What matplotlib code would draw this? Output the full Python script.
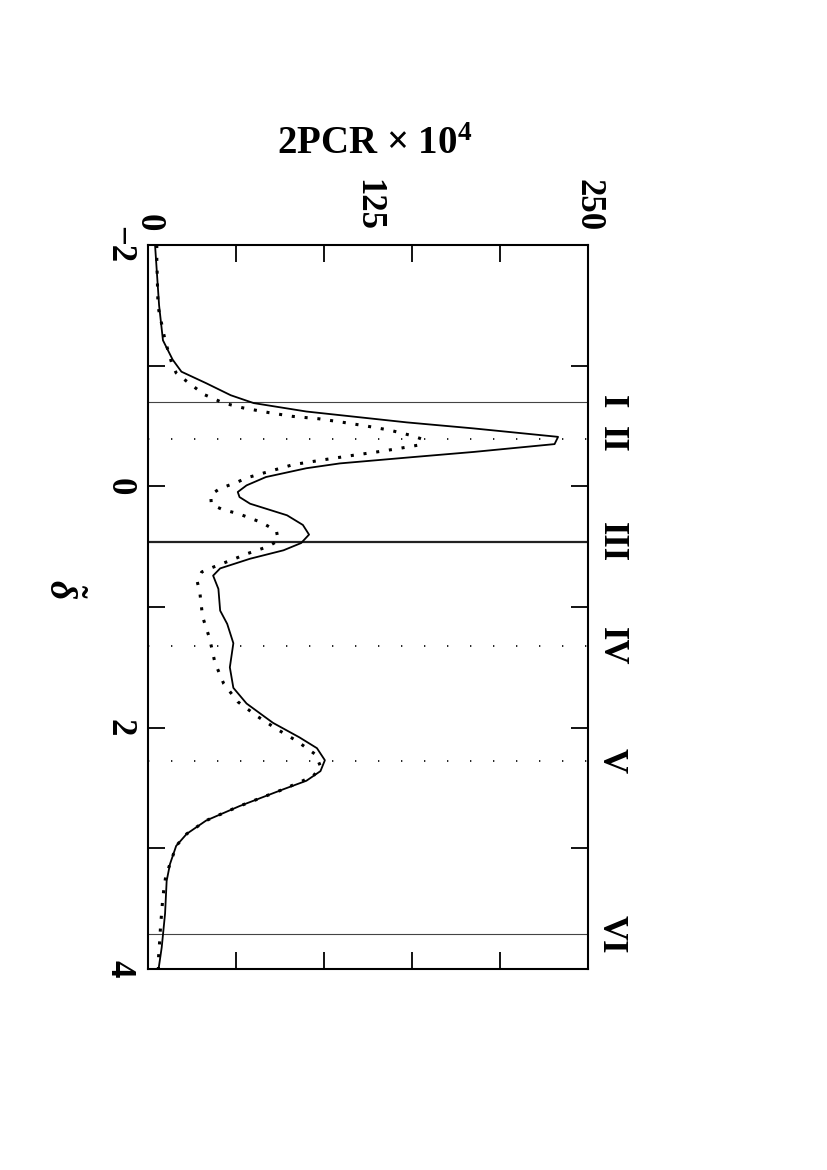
import matplotlib
matplotlib.use("Agg")
import matplotlib.pyplot as plt
import matplotlib.transforms as mtransforms

plt.rcParams['font.family'] = ['Liberation Serif', 'DejaVu Serif']
plt.rcParams['font.weight'] = 'bold'
plt.rcParams['mathtext.fontset'] = 'custom'
plt.rcParams['mathtext.rm'] = 'Liberation Serif:bold'
plt.rcParams['mathtext.bf'] = 'Liberation Serif:bold'
plt.rcParams['mathtext.it'] = 'Liberation Serif:italic:bold'

# solid curve (delta, 2PCR x 10^4)
solid_d = [-2.0, -1.5, -1.21, -1.05, -0.95, -0.855, -0.755, -0.69, -0.62, -0.53,
           -0.48, -0.41, -0.35, -0.285, -0.243, -0.19, -0.15, -0.077, -0.008, 0.047,
           0.089, 0.144, 0.24, 0.32, 0.40, 0.47, 0.53, 0.60, 0.68, 0.74,
           0.85, 1.03, 1.14, 1.30, 1.50, 1.67, 1.80, 1.96, 2.08, 2.17,
           2.27, 2.36, 2.44, 2.51, 2.65, 2.77, 2.88, 2.98, 3.13, 3.27,
           3.54, 3.82, 4.0]
solid_v = [4, 6.3, 8.5, 14, 19, 33, 47, 60, 90, 147,
           185, 233, 231, 185, 151, 109, 90, 67, 56, 51,
           52, 58, 79, 88, 91.5, 87, 77, 58, 41, 37,
           40, 41, 45, 48.5, 46.5, 48.5, 56, 71, 86, 96,
           100.5, 98, 90, 77, 52, 33, 22, 16, 12.5, 10.6,
           9.7, 7.8, 6]

# dotted curve
dot_d = [-2.0, -1.88, -1.49, -1.21, -1.02, -0.94, -0.87, -0.76, -0.69, -0.65,
         -0.61, -0.58, -0.56, -0.53, -0.50, -0.465, -0.42, -0.39, -0.34, -0.31,
         -0.285, -0.257, -0.224, -0.18, -0.12, -0.07, -0.03, 0.017, 0.07, 0.15,
         0.19, 0.23, 0.30, 0.37, 0.45, 0.50, 0.56, 0.59, 0.67, 0.71,
         0.79, 0.885, 1.08, 1.26, 1.46, 1.635, 1.785, 1.905, 2.01, 2.11,
         2.22, 2.32, 2.40, 2.44, 2.51, 2.65, 2.77, 2.88, 2.98, 3.05,
         3.15, 3.24, 3.34, 3.43, 3.53, 3.63, 3.73, 3.82, 3.92, 4.0]
dot_v = [5, 5, 5.7, 9.7, 13.5, 16, 22, 32, 43, 54,
         69, 82, 97, 111, 124, 137.5, 150, 156, 153, 141,
         130, 116.5, 101.5, 82.5, 68, 56, 50, 41, 35.6, 36,
         42, 52, 64.6, 73, 74, 68, 56, 51, 37, 30.5,
         28, 29.5, 31, 35, 38, 43, 51, 62, 73, 84.5,
         95, 98, 94, 88, 77, 52, 33, 22, 16, 14.4,
         12, 10, 9, 8.3, 7.8, 7.2, 6.8, 6.4, 5.9, 5.9]

# marked positions
mark_names = ['I', 'II', 'III', 'IV', 'V', 'VI']
mark_pos = [-0.70, -0.39, 0.462, 1.322, 2.274, 3.712]
mark_style = ['thin', 'dot', 'thick', 'dot', 'dot', 'thin']

x_minor = [0, 50, 100, 150, 200, 250]
x_major = [0, 125, 250]
x_labels = ['0', '125', '250']
y_minor = [-1, 1, 3]
y_major = [-2, 0, 2, 4]
y_labels = ['\u22122', '0', '2', '4']

fig = plt.figure(figsize=(8.28, 11.7), dpi=100)
ax = fig.add_axes([148/828, 1 - 969/1170, 440/828, 724/1170])

for d, s in zip(mark_pos, mark_style):
    if s == 'thin':
        ax.axhline(d, color='#444444', lw=0.8, zorder=1)
    elif s == 'thick':
        ax.axhline(d, color='#222222', lw=1.6, zorder=1)
    else:
        ax.axhline(d, color='black', lw=1.2, ls=(0, (0.8, 13)), zorder=1)

ax.plot(solid_v, solid_d, color='black', lw=1.3, zorder=3)
ax.plot(dot_v, dot_d, color='black', lw=2.2, ls=(0, (1, 3.2)),
        dash_capstyle='butt', zorder=2)

ax.set_xlim(0, 250)
ax.set_ylim(4, -2)

ax.set_xticks(x_major)
ax.set_xticklabels(x_labels)
ax.set_xticks(x_minor, minor=True)
ax.set_yticks(y_major)
ax.set_yticklabels(y_labels)
ax.set_yticks(y_minor, minor=True)

ax.xaxis.set_ticks_position('both')
ax.tick_params(axis='x', which='major', length=0)
ax.tick_params(axis='x', which='minor', direction='in', length=12, width=1.3)
ax.tick_params(axis='x', which='major', labeltop=True, labelbottom=False,
               pad=10, labelsize=25, labelrotation=-90)
ax.yaxis.set_ticks_position('both')
ax.tick_params(axis='y', which='both', direction='in', length=12, width=1.3)
ax.tick_params(axis='y', which='major', labelleft=True, labelright=False,
               pad=9, labelsize=25, labelrotation=-90)
for lab in ax.get_xticklabels():
    lab.set_verticalalignment('bottom')
    lab.set_horizontalalignment('center')
for lab in ax.get_yticklabels():
    lab.set_verticalalignment('center')
    lab.set_horizontalalignment('right')

for sp in ax.spines.values():
    sp.set_linewidth(1.5)

trans = mtransforms.blended_transform_factory(ax.transAxes, ax.transData)
for name, d in zip(mark_names, mark_pos):
    ax.text(1.052, d, name, transform=trans, rotation=-90,
            ha='center', va='center', fontsize=25, fontweight='bold')

fig.text(375/828, 1 - 145/1170, r'2PCR $\times$ 10$^{4}$',
         ha='center', va='center', fontsize=28, fontweight='bold')
fig.text(62/828, 1 - 589/1170, r'$\tilde{\delta}$', rotation=-90,
         ha='center', va='center', fontsize=27)

fig.savefig('out.png', dpi=100)
